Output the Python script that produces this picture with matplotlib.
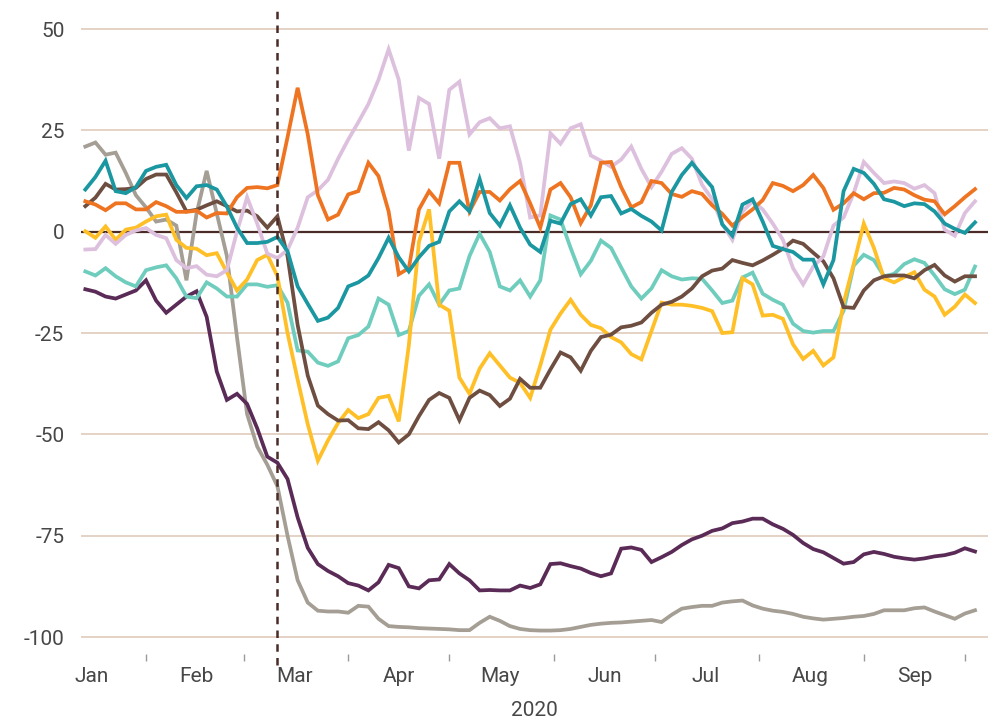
import numpy as np
import pandas as pd
import matplotlib
matplotlib.use('Agg')
import matplotlib.pyplot as plt
import matplotlib.dates as mdates

plt.rcParams['font.family'] = ['Roboto', 'DejaVu Sans']

# one point every 3 days
dates = pd.date_range('2020-01-14', periods=89, freq='3D')

gray = [21, 22, 19, 19.5, 14.5, 9, 6, 2.5, 3, 1.5,
        -12, 4.5, 15, 4.5, -6, -26, -45, -53, -57.5, -62.8,
        -75, -86, -91.5, -93.5, -93.7, -93.7, -94, -92.3, -92.5, -95.5,
        -97.3, -97.5, -97.6, -97.8, -97.9, -98, -98.1, -98.3, -98.3, -96.5,
        -95, -96, -97.3, -98, -98.3, -98.4, -98.4, -98.3, -98, -97.5,
        -97, -96.7, -96.5, -96.4, -96.2, -96, -95.8, -96.3, -94.5, -93,
        -92.6, -92.3, -92.3, -91.5, -91.2, -91, -92.2, -93, -93.5, -93.8,
        -94.3, -95, -95.4, -95.7, -95.5, -95.3, -95, -94.8, -94.3, -93.4,
        -93.4, -93.4, -92.9, -92.7, -93.7, -94.6, -95.5, -94.2, -93.4]

purple = [-14.2, -14.8, -16, -16.5, -15.5, -14.5, -12, -17, -20, -18,
          -16, -14.7, -21, -34.5, -41.5, -40, -42.5, -48.5, -55.5, -57,
          -61, -70.5, -78, -82, -83.7, -85, -86.7, -87.3, -88.5, -86.5,
          -82.2, -83, -87.5, -88, -86, -85.8, -82, -84.3, -86, -88.5,
          -88.4, -88.5, -88.5, -87.3, -87.9, -87, -82, -81.8, -82.5, -83.1,
          -84.2, -85, -84.3, -78.2, -77.9, -78.5, -81.5, -80.3, -79, -77.3,
          -75.9, -75, -73.8, -73.2, -71.9, -71.5, -70.8, -70.8, -72.2, -73.3,
          -74.8, -76.8, -78.3, -79.1, -80.5, -81.9, -81.5, -79.6, -79, -79.5,
          -80.2, -80.6, -80.9, -80.6, -80.1, -79.8, -79.2, -78.1, -78.9]

orange = [7.5, 6.7, 5.3, 7, 7, 5.5, 5.5, 7.3, 6.3, 4.9,
          4.9, 5.2, 3.5, 4.6, 4.5, 8.5, 10.8, 11, 10.7, 11.5,
          23.3, 35.5, 24, 9, 3, 4.2, 9.2, 10, 17, 13.7,
          5, -10.5, -9, 5.5, 10, 7, 17, 17, 5, 9.8,
          9.8, 7.7, 10.5, 12.5, 7, 1, 10.4, 12, 8.5, 2.1,
          6.5, 17, 17.2, 11, 6, 7.3, 12.5, 12, 9.3, 8.6,
          10, 9.3, 6.5, 4.4, 1.5, 3.6, 5.5, 7.8, 12, 11.3,
          10, 11.5, 14, 10.8, 5.4, 7, 9.5, 8, 9.5, 9.6,
          10.8, 10.4, 9, 7.9, 7.5, 4.3, 6.3, 8.5, 10.5]

pink = [-4.4, -4.3, -0.8, -3, -0.8, 0.3, 0.9, -0.8, -1.6, -7,
        -9, -8.5, -10.6, -11, -9.5, 0, 8.5, 2, -5.4, -6.5,
        -4.5, 1, 8.5, 10.2, 12.8, 18, 22.7, 27, 31.5, 37.5,
        45, 37.5, 20, 33, 31.5, 18, 35, 37, 24, 27,
        28, 25.5, 26, 17, 3.5, 4, 24.3, 21.7, 25.5, 26.5,
        18.8, 17.5, 16, 17.8, 21, 15.5, 11, 14.8, 19.2, 20.6,
        18, 11.6, 8, 1.9, -2, 5, 7.5, 5.5, 2, -2,
        -9, -13, -8.6, -6.1, 1.5, 3.5, 9.5, 17.2, 14.5, 12,
        12.4, 12, 10.6, 11.5, 9.5, 0.5, -1, 4.6, 7.5]

teal = [10.4, 13.5, 17.5, 10, 9.5, 11, 15, 16, 16.5, 11.5,
        8.3, 11.2, 11.5, 10.4, 6.2, 1, -2.8, -2.8, -2.5, -1.3,
        -4.8, -13.5, -17.8, -22, -21.2, -18.8, -13.5, -12.5, -10.8, -6.5,
        -1.5, -6.3, -9.8, -6.3, -3.5, -2.5, 5, 7.5, 5, 13,
        4.6, 1.5, 6.5, 1, -3.2, -5, 2.7, 2, 6.8, 8,
        4, 8.5, 8.8, 4.5, 5.6, 3.9, 2.5, 0.3, 9.8, 14,
        17, 13.9, 11, 1.8, -1, 6.7, 8, 2.5, -3.5, -4.3,
        -5, -6.9, -6.9, -13, -7, 10, 15.5, 14.5, 11.8, 8,
        7.4, 6.3, 7, 6.8, 5, 2, 0.7, -0.3, 2.3]

mint = [-9.8, -10.8, -9, -11, -12.5, -13.5, -9.5, -8.8, -8.3, -11.5,
        -16, -16.4, -12.5, -14, -16, -16, -13, -13, -13.6, -13.2,
        -17.5, -29.3, -29.6, -32.3, -33.1, -32, -26.3, -25.5, -23.4, -16.5,
        -18, -25.5, -24.5, -15.8, -13, -18, -14.5, -14, -6, -0.5,
        -5, -13.5, -14.5, -12, -16, -12, 4, 3, -4, -10.5,
        -7.2, -2.2, -4, -8.8, -13.5, -16.5, -14, -9.5, -11, -11.8,
        -11.5, -11.6, -14.5, -17.6, -17, -11.3, -10.1, -15.3, -16.8, -18,
        -22.7, -24.5, -24.9, -24.5, -24.5, -19.5, -8.4, -5.7, -7, -11,
        -10.4, -8, -6.8, -7.7, -10.8, -14.2, -15.4, -14.3, -8.6]

yellow = [0.1, -1.5, 1.3, -2, 0.5, 1, 2.5, 3.8, 4.2, -2,
          -4, -4.2, -5.8, -5.3, -10, -14.5, -11.8, -7, -5.7, -11,
          -25, -36.5, -47.5, -56.5, -51.5, -47.2, -44, -46, -45, -41,
          -40.5, -46.8, -28, -2.5, 5.5, -18, -19.5, -36, -40, -33.8,
          -30, -33, -36, -37.3, -41, -33, -24.2, -20.2, -16.8, -20.5,
          -23, -23.8, -26, -27.3, -30.2, -31.5, -24.5, -17.5, -18, -18,
          -18.3, -18.8, -19.6, -25, -24.8, -11.5, -13, -20.7, -20.5, -21.5,
          -27.8, -31.4, -29.4, -33, -31, -17.6, -8, 2, -4, -11.5,
          -12.5, -11.2, -10, -14.3, -16, -20.5, -18.5, -15.5, -17.6]

brown = [6.3, 8.4, 11.8, 10.4, 10.5, 10.8, 13, 14.1, 14.1, 9.7,
         5, 5.4, 6.5, 7.5, 6.3, 5, 5.2, 3.8, 1, 3.8,
         -6, -23, -35.5, -42.9, -45, -46.6, -46.5, -48.5, -48.7, -47,
         -49, -52, -50, -45.5, -41.5, -39.8, -41, -46.5, -41, -39.2,
         -40.3, -43, -41.2, -36.3, -38.5, -38.5, -34, -29.8, -31, -34.3,
         -29.4, -26, -25.4, -23.6, -23.2, -22.4, -20, -18, -17.3, -16,
         -14, -11, -9.6, -9.1, -7, -7.7, -8.3, -7.1, -5.7, -4.2,
         -2.2, -3, -5.2, -7.3, -11.5, -18.6, -18.8, -14.5, -12, -11,
         -10.8, -10.8, -11.5, -9.5, -8.2, -10.8, -12.3, -11, -11]

yticks = [50, 25, 0, -25, -50, -75, -100]
ytick_labels = ['50', '25', '0', '-25', '-50', '-75', '-100']
months = ['Jan', 'Feb', 'Mar', 'Apr', 'May', 'Jun', 'Jul', 'Aug', 'Sep']

txt = '#474747'
grid_c = '#e0cbbb'
dark = '#4b2b27'

fig = plt.figure(figsize=(9.99, 7.25), dpi=100)
ax = fig.add_axes([0.0811, 0.0979, 0.9079, 0.8883])

for v in yticks:
    if v != 0:
        ax.axhline(v, color=grid_c, lw=1.2, zorder=0)
ax.axhline(0, color=dark, lw=1.6, zorder=1)

series = [(gray, '#a49e94'), (purple, '#5b2b57'), (mint, '#6fcdbe'),
          (yellow, '#ffbf27'), (brown, '#6e4e40'), (pink, '#ddc0dd'),
          (orange, '#ee7421'), (teal, '#1a97a0')]
for vals, col in series:
    ax.plot(dates, vals, color=col, lw=2.7, solid_joinstyle='miter', zorder=2)

ax.axvline(pd.Timestamp('2020-03-11'), ymin=-0.017, ymax=1, color=dark,
           lw=1.8, ls=(0, (3, 2.5)), clip_on=False, zorder=3)

base = mdates.date2num(pd.Timestamp('2020-01-01'))
ax.set_xlim(base + 11.72, base + 280.86)
ax.set_ylim(-104.19, 54.69)

ax.set_xticks(pd.date_range('2020-02-01', '2020-10-01', freq='MS'))
ax.set_xticklabels([])
ax.set_xticks([pd.Timestamp(2020, m, 16) for m in range(1, 10)], minor=True)
ax.set_xticklabels(months, minor=True)
ax.tick_params(axis='x', which='major', length=5, width=1, color='#9a9a9a')
ax.tick_params(axis='x', which='minor', length=0, pad=9, labelsize=15, labelcolor=txt)

ax.set_yticks(yticks)
ax.set_yticklabels(ytick_labels)
ax.tick_params(axis='y', length=0, pad=12, labelsize=15, labelcolor=txt)

for s in ax.spines.values():
    s.set_visible(False)

fig.text(0.5345, 1 - 711 / 725, '2020', ha='center', va='center', fontsize=15, color=txt)

fig.savefig('out.png', dpi=100)
